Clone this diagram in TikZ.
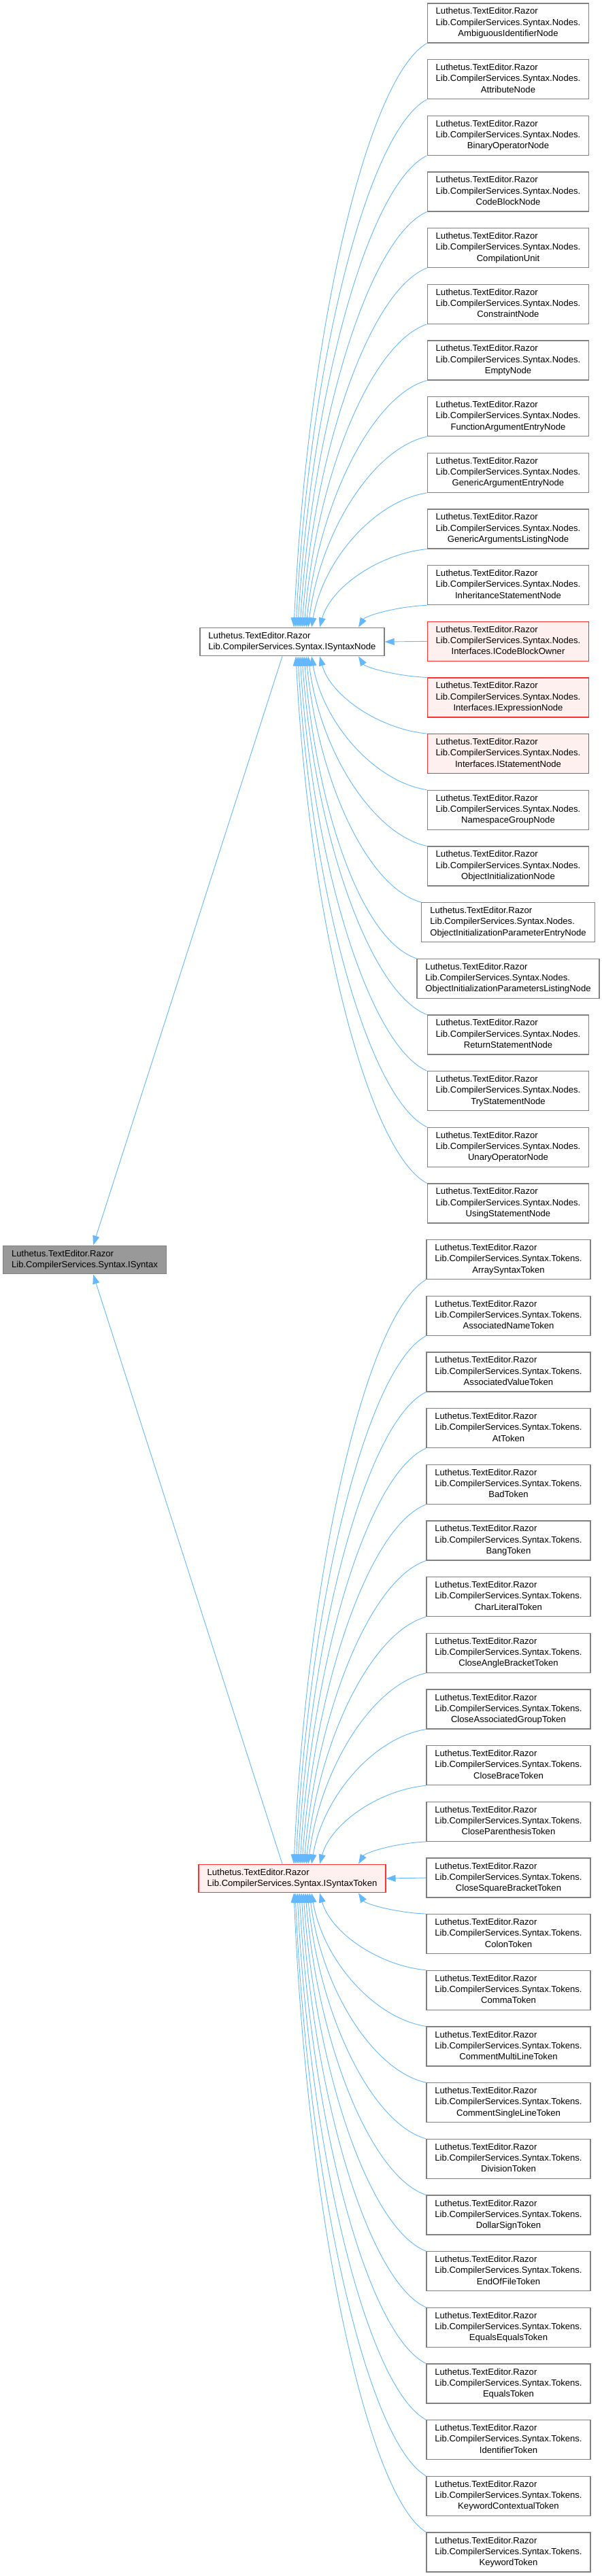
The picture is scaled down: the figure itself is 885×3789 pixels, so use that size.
\documentclass[tikz,border=0pt]{standalone}
\usepackage{fontspec}
\setmainfont{Liberation Sans}
\usetikzlibrary{arrows.meta,calc}
\definecolor{boxgray}{HTML}{808080}
\definecolor{boxred}{HTML}{FF3030}
\definecolor{boxpink}{HTML}{FFF0F0}
\definecolor{basegray}{HTML}{999999}
\definecolor{edgeblue}{HTML}{63B8FF}
\newcommand\lbl[2]{\begin{tabular}{@{}l@{}}Luthetus.TextEditor.Razor\\Lib.CompilerServices.Syntax.#1\\\multicolumn{1}{@{}c@{}}{#2}\end{tabular}}
\newcommand\lbltwo[1]{\begin{tabular}{@{}l@{}}Luthetus.TextEditor.Razor\\Lib.CompilerServices.Syntax.#1\end{tabular}}
\tikzset{
  cls/.style={draw=boxgray, line width=1.3pt, fill=white, inner xsep=12.5pt, inner ysep=4.5pt,
    font=\fontsize{13.1}{16.3}\selectfont},
  redcls/.style={cls, draw=boxred, fill=boxpink},
  basecls/.style={cls, fill=basegray},
  edge/.style={draw=edgeblue, line width=0.9pt, -{Triangle[length=14pt,width=10pt]}},
}
\begin{document}
\begin{tikzpicture}[x=1pt,y=-1pt]
\useasboundingbox[fill=white] (0,0) rectangle (885,3789);
% parents
\node[basecls] (base) at (124.5,1853) {\lbltwo{ISyntax}};
\node[cls] (p1) at (429.5,944) {\lbltwo{ISyntaxNode}};
\node[redcls] (p2) at (429.5,2763) {\lbltwo{ISyntaxToken}};
% node children
\foreach \name/\sty [count=\k from 0] in {
  AmbiguousIdentifierNode/cls, AttributeNode/cls, BinaryOperatorNode/cls, CodeBlockNode/cls,
  CompilationUnit/cls, ConstraintNode/cls, EmptyNode/cls, FunctionArgumentEntryNode/cls,
  GenericArgumentEntryNode/cls, GenericArgumentsListingNode/cls, InheritanceStatementNode/cls,
  Interfaces.ICodeBlockOwner/redcls, Interfaces.IExpressionNode/redcls, Interfaces.IStatementNode/redcls,
  NamespaceGroupNode/cls, ObjectInitializationNode/cls, ObjectInitializationParameterEntryNode/cls,
  ObjectInitializationParametersListingNode/cls, ReturnStatementNode/cls, TryStatementNode/cls,
  UnaryOperatorNode/cls, UsingStatementNode/cls} {
  \node[\sty] (n\k) at (747,{34+82.667*\k}) {\lbl{Nodes.}{\name}};
}
% token children
\foreach \name [count=\k from 0] in {
  ArraySyntaxToken, AssociatedNameToken, AssociatedValueToken, AtToken, BadToken, BangToken,
  CharLiteralToken, CloseAngleBracketToken, CloseAssociatedGroupToken, CloseBraceToken,
  CloseParenthesisToken, CloseSquareBracketToken, ColonToken, CommaToken, CommentMultiLineToken,
  CommentSingleLineToken, DivisionToken, DollarSignToken, EndOfFileToken, EqualsEqualsToken,
  EqualsToken, IdentifierToken, KeywordContextualToken, KeywordToken} {
  \node[cls] (t\k) at (747.5,{34+82.667*(\k+22)}) {\lbl{Tokens.}{\name}};
}
% edges to ISyntax
\draw[edge] ([xshift=-14.5pt]p1.south) -- ([xshift=12.5pt]base.north);
\draw[edge] ([xshift=-14.5pt]p2.north) -- ([xshift=12.5pt]base.south);
% node children above p1
\foreach \i/\xe in {0/432,1/435,2/438,3/441,4/444,5/447,6/450,7/453,8/458,9/470,10/527} {
  \pgfmathsetmacro\yb{63+82.667*\i}
  \pgfmathsetmacro\dx{628-\xe}
  \pgfmathsetmacro\dy{923-\yb}
  \pgfmathsetmacro\ax{-0.45*\dx}
  \pgfmathsetmacro\ay{0.06*\dy}
  \pgfmathsetmacro\bx{0.1*\dx}
  \pgfmathsetmacro\by{-0.5*\dy}
  \pgfmathsetmacro\sh{\xe-429.5}
  \draw[edge] (n\i.south west) .. controls +(\ax,\ay) and +(\bx,\by) .. ([xshift=\sh pt]p1.north);
}
\draw[edge] (n11.west) -- (p1.east);
\foreach \i/\xe in {12/527,13/470,14/458,15/453,16/450,17/447,18/444,19/441,20/438,21/435} {
  \pgfmathsetmacro\yt{5+82.667*\i}
  \pgfmathsetmacro\dx{628-\xe}
  \pgfmathsetmacro\dy{\yt-965}
  \pgfmathsetmacro\ax{-0.45*\dx}
  \pgfmathsetmacro\ay{-0.06*\dy}
  \pgfmathsetmacro\bx{0.1*\dx}
  \pgfmathsetmacro\by{0.5*\dy}
  \pgfmathsetmacro\sh{\xe-429.5}
  \draw[edge] (n\i.north west) .. controls +(\ax,\ay) and +(\bx,\by) .. ([xshift=\sh pt]p1.south);
}
% token children
\foreach \i/\xe in {0/432,1/435,2/438,3/441,4/444,5/447,6/450,7/453,8/458,9/470,10/527} {
  \pgfmathsetmacro\yb{63+82.667*(\i+22)}
  \pgfmathsetmacro\dx{628-\xe}
  \pgfmathsetmacro\dy{2742-\yb}
  \pgfmathsetmacro\ax{-0.45*\dx}
  \pgfmathsetmacro\ay{0.06*\dy}
  \pgfmathsetmacro\bx{0.1*\dx}
  \pgfmathsetmacro\by{-0.5*\dy}
  \pgfmathsetmacro\sh{\xe-429.5}
  \draw[edge] (t\i.south west) .. controls +(\ax,\ay) and +(\bx,\by) .. ([xshift=\sh pt]p2.north);
}
\draw[edge] (t11.west) -- (p2.east);
\foreach \i/\xe in {12/527,13/470,14/458,15/455,16/452,17/449,18/446,19/443,20/440,21/437,22/434,23/432} {
  \pgfmathsetmacro\yt{5+82.667*(\i+22)}
  \pgfmathsetmacro\dx{628-\xe}
  \pgfmathsetmacro\dy{\yt-2784}
  \pgfmathsetmacro\ax{-0.45*\dx}
  \pgfmathsetmacro\ay{-0.06*\dy}
  \pgfmathsetmacro\bx{0.1*\dx}
  \pgfmathsetmacro\by{0.5*\dy}
  \pgfmathsetmacro\sh{\xe-429.5}
  \draw[edge] (t\i.north west) .. controls +(\ax,\ay) and +(\bx,\by) .. ([xshift=\sh pt]p2.south);
}
\end{tikzpicture}
\end{document}
